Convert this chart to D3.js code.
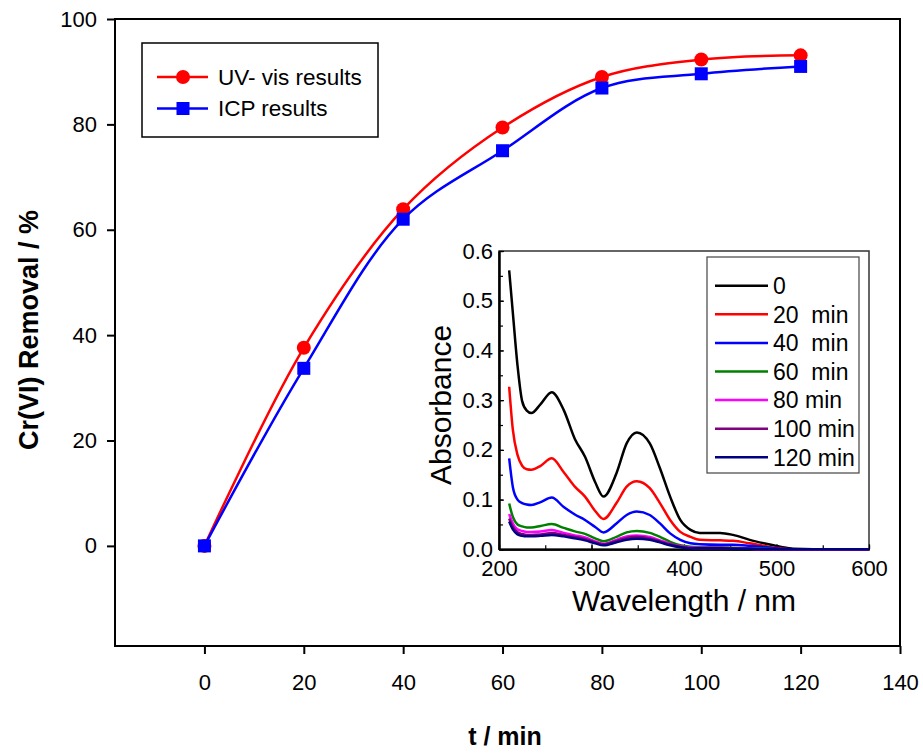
<!DOCTYPE html>
<html>
<head>
<meta charset="utf-8">
<script src="https://cdn.jsdelivr.net/npm/d3@7"></script>
<style>
  body { margin: 0; background: #fff; }
  text { font-family: "Liberation Sans", Arial, sans-serif; }
</style>
</head>
<body>
<div id="chart"></div>
<script>
// main data: removal vs time
const times = [0, 20, 40, 60, 80, 100, 120]
const uvVis = [0, 37.6, 63.9, 79.4, 89.0, 92.3, 93.1]
const icp = [0, 33.7, 62.0, 75.0, 86.9, 89.6, 91.0]
const mainSeries = [
  { name: "UV- vis results", values: uvVis, color: "#ff0000", marker: "circle" },
  { name: "ICP results", values: icp, color: "#0000ff", marker: "square" }
]
const xTicks = [0, 20, 40, 60, 80, 100, 120, 140]
const yTicks = [0, 20, 40, 60, 80, 100]

// inset data: absorbance spectra
const wavelengths = [211, 215, 220, 225, 230, 235, 245, 257, 270, 282, 293, 304, 313, 327, 338, 349, 363, 374, 385, 396, 407, 417, 439, 453, 471, 489, 504, 518, 540, 600]
const abs0 =   [0.561, 0.475, 0.37, 0.298, 0.279, 0.274, 0.292, 0.316, 0.28, 0.222, 0.186, 0.135, 0.106, 0.153, 0.213, 0.235, 0.213, 0.163, 0.106, 0.059, 0.039, 0.033, 0.033, 0.029, 0.019, 0.011, 0.005, 0.001, 0, 0]
const abs20 =  [0.327, 0.24, 0.19, 0.168, 0.161, 0.16, 0.168, 0.183, 0.155, 0.126, 0.106, 0.077, 0.061, 0.093, 0.126, 0.137, 0.123, 0.093, 0.059, 0.035, 0.025, 0.019, 0.018, 0.017, 0.012, 0.006, 0.002, 0, 0, 0]
const abs40 =  [0.183, 0.125, 0.1, 0.093, 0.09, 0.089, 0.095, 0.104, 0.085, 0.07, 0.059, 0.045, 0.034, 0.052, 0.069, 0.076, 0.069, 0.052, 0.032, 0.019, 0.012, 0.01, 0.009, 0.009, 0.007, 0.004, 0.001, 0, 0, 0]
const abs60 =  [0.092, 0.065, 0.05, 0.046, 0.044, 0.044, 0.047, 0.051, 0.043, 0.036, 0.031, 0.022, 0.016, 0.025, 0.034, 0.037, 0.033, 0.025, 0.015, 0.008, 0.005, 0.004, 0.004, 0.003, 0.002, 0.001, 0, 0, 0, 0]
const abs80 =  [0.071, 0.052, 0.04, 0.037, 0.035, 0.035, 0.036, 0.039, 0.033, 0.028, 0.024, 0.016, 0.011, 0.019, 0.026, 0.028, 0.025, 0.018, 0.011, 0.006, 0.004, 0.003, 0.003, 0.002, 0.001, 0, 0, 0, 0, 0]
const abs100 = [0.062, 0.045, 0.034, 0.031, 0.029, 0.029, 0.03, 0.033, 0.029, 0.025, 0.021, 0.014, 0.01, 0.017, 0.023, 0.025, 0.022, 0.016, 0.01, 0.005, 0.003, 0.002, 0.002, 0.002, 0.001, 0, 0, 0, 0, 0]
const abs120 = [0.056, 0.04, 0.03, 0.027, 0.026, 0.026, 0.027, 0.029, 0.026, 0.022, 0.018, 0.012, 0.008, 0.014, 0.019, 0.021, 0.019, 0.014, 0.008, 0.004, 0.002, 0.002, 0.002, 0.001, 0.001, 0, 0, 0, 0, 0]
const spectra = [
  { label: "0", values: abs0, color: "#000000" },
  { label: "20  min", values: abs20, color: "#ff0000" },
  { label: "40  min", values: abs40, color: "#0000ff" },
  { label: "60  min", values: abs60, color: "#008000" },
  { label: "80 min", values: abs80, color: "#ff00ff" },
  { label: "100 min", values: abs100, color: "#800080" },
  { label: "120 min", values: abs120, color: "#000080" }
]
const insetYTicks = [0, 0.1, 0.2, 0.3, 0.4, 0.5, 0.6]
const insetXTicks = [200, 300, 400, 500, 600]

const w = 923
const h = 753

const svg = d3.select("#chart")
  .append("svg")
  .attr("width", w)
  .attr("height", h)

// main chart
const x = d3.scaleLinear().domain([-18, 140]).range([115, 900])
const y = d3.scaleLinear().domain([-19, 100]).range([646, 19])

svg.append("rect")
  .attr("x", x(-18)).attr("y", y(100))
  .attr("width", x(140) - x(-18)).attr("height", y(-19) - y(100))
  .attr("fill", "none").attr("stroke", "#000").attr("stroke-width", 2)

const yAxis = svg.append("g")
  .attr("transform", `translate(${x(-18)},0)`)
  .call(d3.axisLeft(y).tickValues(yTicks).tickSize(8).tickPadding(10).tickSizeOuter(0))
yAxis.select(".domain").remove()
yAxis.selectAll("line").attr("stroke-width", 2)
yAxis.selectAll("text").attr("font-size", 22).attr("fill", "#000")
  .style("font-family", "'Liberation Sans', Arial, sans-serif")

const xAxis = svg.append("g")
  .attr("transform", `translate(0,${y(-19)})`)
  .call(d3.axisBottom(x).tickValues(xTicks).tickSize(8).tickPadding(20).tickSizeOuter(0))
xAxis.select(".domain").remove()
xAxis.selectAll("line").attr("stroke-width", 2)
xAxis.selectAll("text").attr("font-size", 22).attr("fill", "#000")
  .style("font-family", "'Liberation Sans', Arial, sans-serif")

svg.append("text")
  .attr("transform", "translate(38,330) rotate(-90)")
  .attr("text-anchor", "middle")
  .attr("font-size", 27).attr("font-weight", "bold")
  .text("Cr(VI) Removal / %")

svg.append("text")
  .attr("x", 505).attr("y", 745)
  .attr("text-anchor", "middle")
  .attr("font-size", 25).attr("font-weight", "bold")
  .text("t / min")

const mainLine = d3.line()
  .x((d, i) => x(times[i]))
  .y(d => y(d))
  .curve(d3.curveCatmullRom.alpha(0.5))

const drawMarker = (g, s, cx, cy) => {
  if (s.marker === "circle") {
    g.append("circle").attr("cx", cx).attr("cy", cy).attr("r", 7).attr("fill", s.color)
  } else {
    g.append("rect").attr("x", cx - 6.5).attr("y", cy - 6.5).attr("width", 13).attr("height", 13).attr("fill", s.color)
  }
}

mainSeries.forEach(s => {
  const g = svg.append("g")
  g.append("path")
    .attr("d", mainLine(s.values))
    .attr("fill", "none").attr("stroke", s.color).attr("stroke-width", 2.5)
  s.values.forEach((v, i) => drawMarker(g, s, x(times[i]), y(v)))
})

// main legend
const leg = svg.append("g")
leg.append("rect")
  .attr("x", 142).attr("y", 43).attr("width", 236).attr("height", 94)
  .attr("fill", "#fff").attr("stroke", "#000").attr("stroke-width", 1.5)
mainSeries.forEach((s, i) => {
  const ly = 77 + i * 31.5
  leg.append("line").attr("x1", 157).attr("x2", 208).attr("y1", ly).attr("y2", ly)
    .attr("stroke", s.color).attr("stroke-width", 2.5)
  drawMarker(leg, s, 183, ly)
  leg.append("text").attr("x", 218).attr("y", ly).attr("dy", "0.35em")
    .attr("font-size", 22.5).text(s.name)
})

// inset chart
const ix = d3.scaleLinear().domain([200, 600]).range([499, 869])
const iy = d3.scaleLinear().domain([0, 0.6]).range([549.3, 251])

const inset = svg.append("g")
inset.append("rect")
  .attr("x", ix(200)).attr("y", iy(0.6))
  .attr("width", ix(600) - ix(200)).attr("height", iy(0) - iy(0.6))
  .attr("fill", "#fff").attr("stroke", "#333").attr("stroke-width", 1.5)

const iyMinor = inset.append("g")
  .attr("transform", `translate(${ix(200)},0)`)
  .call(d3.axisLeft(iy).ticks(12).tickSize(-4).tickFormat("").tickSizeOuter(0))
const iyAxis = inset.append("g")
  .attr("transform", `translate(${ix(200)},0)`)
  .call(d3.axisLeft(iy).tickValues(insetYTicks).tickSize(-5).tickPadding(6).tickFormat(d3.format(".1f")).tickSizeOuter(0))
const ixMinor = inset.append("g")
  .attr("transform", `translate(0,${iy(0)})`)
  .call(d3.axisBottom(ix).ticks(8).tickSize(-4).tickFormat("").tickSizeOuter(0))
const ixAxis = inset.append("g")
  .attr("transform", `translate(0,${iy(0)})`)
  .call(d3.axisBottom(ix).tickValues(insetXTicks).tickSize(-5).tickPadding(11).tickSizeOuter(0))

;[iyMinor, iyAxis, ixMinor, ixAxis].forEach(a => {
  a.select(".domain").attr("stroke-width", 2)
  a.selectAll("line").attr("stroke-width", 1.2)
  a.selectAll("text").attr("font-size", 22).attr("fill", "#000")
    .style("font-family", "'Liberation Sans', Arial, sans-serif")
})

inset.append("text")
  .attr("transform", "translate(451,405) rotate(-90)")
  .attr("text-anchor", "middle")
  .attr("font-size", 30)
  .text("Absorbance")

inset.append("text")
  .attr("x", 684).attr("y", 611)
  .attr("text-anchor", "middle")
  .attr("font-size", 30)
  .text("Wavelength / nm")

const specLine = d3.line()
  .x((d, i) => ix(wavelengths[i]))
  .y(d => iy(d))
  .curve(d3.curveMonotoneX)

spectra.forEach(s => {
  inset.append("path")
    .attr("d", specLine(s.values))
    .attr("fill", "none").attr("stroke", s.color).attr("stroke-width", 2.5)
})

// inset legend
const ileg = inset.append("g")
ileg.append("rect")
  .attr("x", 707).attr("y", 257).attr("width", 152).attr("height", 216)
  .attr("fill", "#fff").attr("stroke", "#444").attr("stroke-width", 1.2)
spectra.forEach((s, i) => {
  const ly = 285.7 + i * 28.6
  ileg.append("line").attr("x1", 715).attr("x2", 768).attr("y1", ly).attr("y2", ly)
    .attr("stroke", s.color).attr("stroke-width", 2.5)
  ileg.append("text").attr("x", 773).attr("y", ly).attr("dy", "0.36em")
    .attr("font-size", 23).style("white-space", "pre").text(s.label)
})
</script>
</body>
</html>
